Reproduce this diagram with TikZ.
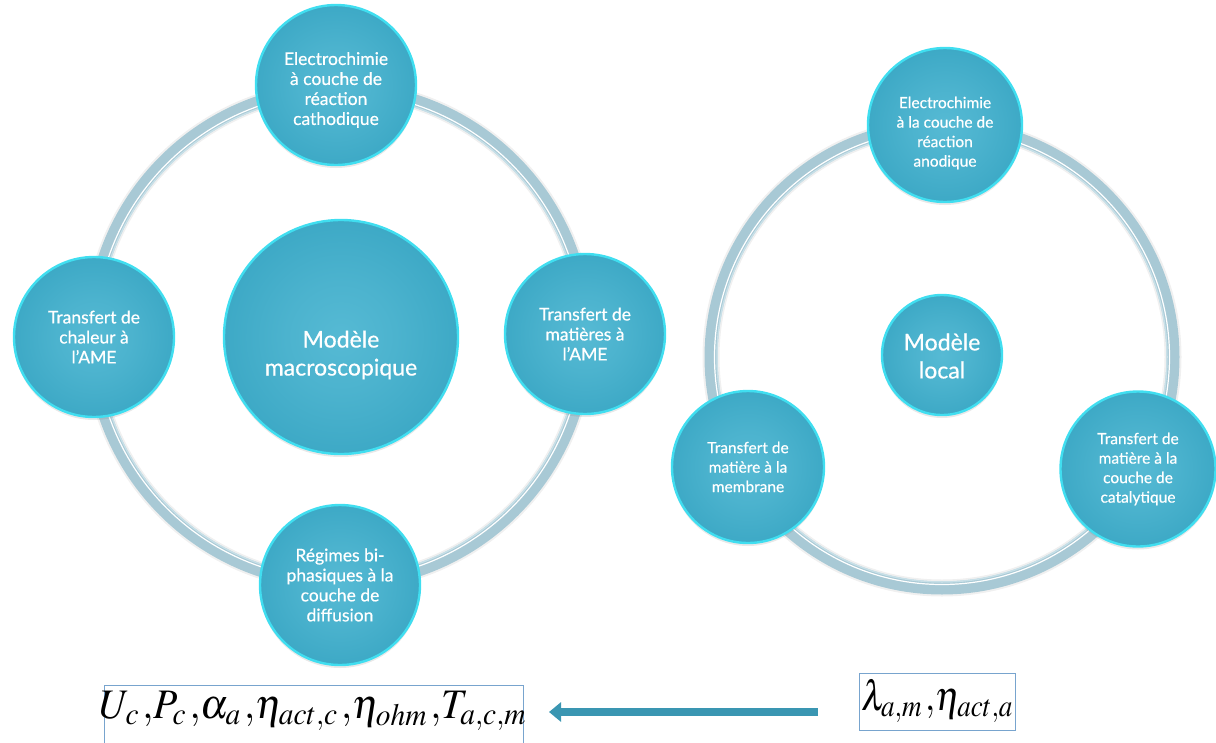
\documentclass[tikz,border=0pt]{standalone}
\usepackage{mathptmx}
\usepackage{graphicx}
\usepackage{fontspec}
\newfontfamily\gill[FakeBold=0.5]{Lato}
\usetikzlibrary{arrows.meta,shadows}
\definecolor{tealL}{RGB}{86,186,212}
\definecolor{tealD}{RGB}{34,150,182}
\definecolor{rimc}{RGB}{64,222,240}
\definecolor{bandc}{RGB}{168,201,213}
\definecolor{bandedge}{RGB}{200,224,232}
\definecolor{boxc}{RGB}{120,164,206}
\definecolor{arrowc}{RGB}{58,150,178}
\pgfdeclareradialshading{tealball}{\pgfpoint{0bp}{0bp}}{color(0bp)=(tealL); color(12bp)=(tealL!80!tealD); color(50bp)=(tealD)}
\tikzset{
  ball/.style={circle, shading=tealball, draw=rimc, line width=2.4pt, inner sep=0pt,
    text=white, align=center, font=\gill\fontsize{15.5}{19.5}\selectfont,
    drop shadow={opacity=0.18, shadow xshift=0pt, shadow yshift=-3pt}},
  bigfont/.style={font=\gill\fontsize{17.5}{20}\selectfont},
  txt/.style={text=white, align=center, inner sep=0pt},
  bigtxt/.style={txt, font=\gill\fontsize{23}{28}\selectfont},
  bandglow/.style={line width=17pt, draw=black, opacity=0.06},
  band/.style={line width=13pt, draw=bandc},
  bandline/.style={line width=1.2pt, draw=white},
  bandinner/.style={line width=1.5pt, draw=bandedge},
  mbox/.style={draw=boxc, line width=1.3pt, inner sep=0pt},
  mfont/.style={font=\fontsize{42}{46}\selectfont},
  bigarrow/.style={line width=8.5pt, draw=arrowc, -{Triangle[width=19pt,length=12pt]}}
}
\newcommand{\cm}{\mkern1.5mu{,}}
\begin{document}
\begin{tikzpicture}[x=1pt,y=-1pt]
\useasboundingbox (0,0) rectangle (1216,742);
% left ring
\draw[bandglow] (339,336) circle[radius=247];
\draw[band] (339,336) circle[radius=247];
\draw[bandline] (339,336) circle[radius=243.5];
\draw[bandinner] (339,336) circle[radius=241];
% right ring
\draw[bandglow] (942,357) circle[radius=231];
\draw[band] (942,357) circle[radius=231];
\draw[bandline] (942,357) circle[radius=227.5];
\draw[bandinner] (942,357) circle[radius=225];

% left model
\node[ball, minimum size=234pt,
  label={[bigtxt, name=macrot, yshift=-18pt]center:Modèle\\macroscopique}] (macro) at (341,337) {};
\node[ball, bigfont, minimum size=160pt,
  label={[txt, bigfont, name=catht, yshift=-5pt]center:Electrochimie\\à couche de\\réaction\\cathodique}] (cath) at (336,85) {};
\node[ball, bigfont, minimum size=160pt] (chal) at (94,337) {Transfert de\\chaleur à\\l’AME};
\node[ball, bigfont, minimum size=160pt] (mat) at (585,334) {Transfert de\\matières à\\l’AME};
\node[ball, bigfont, minimum size=160pt] (biph) at (340,585) {Régimes bi-\\phasiques à la\\couche de\\diffusion};

% right model
\node[ball, minimum size=120pt,
  label={[bigtxt, name=localt, yshift=-1pt]center:Modèle\\local}] (local) at (942,355) {};
\node[ball, minimum size=154pt,
  label={[txt, font=\gill\fontsize{15.5}{19.5}\selectfont, name=anodt, yshift=-8pt]center:Electrochimie\\à la couche de\\réaction\\anodique}] (anod) at (945,125) {};
\node[ball, minimum size=152pt] (memb) at (748,467) {Transfert de\\matière à la\\membrane};
\node[ball, minimum size=155pt] (cata) at (1138,469) {Transfert de\\matière à la\\couche de\\catalytique};

% formulas
\node[mbox, minimum width=419pt, minimum height=62pt, anchor=north west] (lbox) at (104,685) {};
\node[mfont, inner sep=0pt] (lform) at (313,711)
  {\scalebox{0.945}[1]{$U_c\cm P_c\cm\alpha_a\cm\eta_{act,c}\cm\eta_{ohm}\cm T_{a,c,m}$}};
\node[mbox, minimum width=156pt, minimum height=57pt, anchor=north west] (rbox) at (859,673) {};
\node[mfont, inner sep=0pt] (rform) at (937,701)
  {\scalebox{0.87}[1]{$\lambda_{a,m}\cm\eta_{act,a}$}};

\coordinate (as) at (818,712);
\coordinate (ae) at (549,712);
\draw[bigarrow] (as) -- (ae);
\end{tikzpicture}
\end{document}
